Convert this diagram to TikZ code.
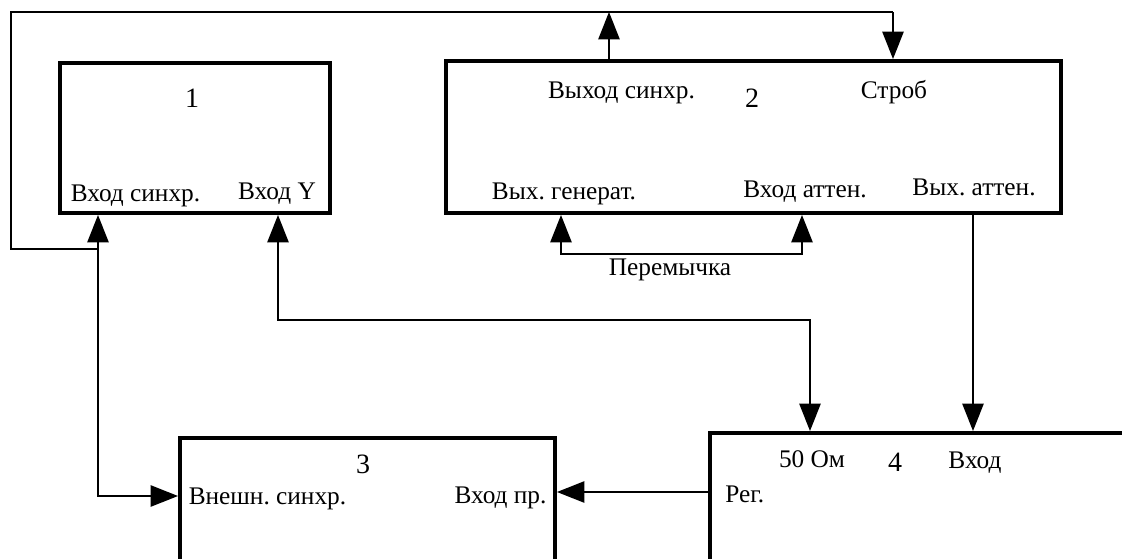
\documentclass[tikz,border=0pt]{standalone}
\usepackage{fontspec}
\setmainfont{Liberation Serif}
\usetikzlibrary{arrows.meta}
\frenchspacing
\begin{document}
\begin{tikzpicture}[x=0.75pt,y=-0.75pt,
  blk/.style={draw,line width=3pt,inner sep=0pt},
  lbl/.style={inner sep=0pt,anchor=base,font=\fontsize{19}{22}\selectfont\frenchspacing},
  num/.style={inner sep=0pt,anchor=base,font=\fontsize{21}{24}\selectfont},
  wire/.style={line width=1pt},
  tip/.tip={Triangle[length=20.5pt,width=16pt]},
  arr/.style={wire,-tip},
  darr/.style={wire,tip-tip}]
\useasboundingbox (0,0) rectangle (1122,558);
\clip (0,0) rectangle (1122,558);
\fill[white] (0,0) rectangle (1122,558);
% blocks
\node[blk,minimum width=202.5pt,minimum height=112.5pt] (box1) at (195,138) {};
\node[blk,minimum width=461.25pt,minimum height=114pt] (box2) at (753.5,137) {};
\node[blk,minimum width=281.25pt,minimum height=151.5pt] (box3) at (367.5,539) {};
\node[blk,minimum width=375pt,minimum height=155.25pt] (box4) at (960,536.5) {};
% block 1 texts
\node[num] (n1) at (192,107) {1};
\node[lbl] (b1s) at (135.5,201) {Вход синхр.};
\node[lbl] (b1y) at (277,199.5) {Вход Y};
% block 2 texts
\node[lbl] (b2so) at (621.5,98.5) {Выход синхр.};
\node[num] (n2) at (752,107) {2};
\node[lbl] (b2st) at (894,98) {Строб};
\node[lbl] (b2g) at (564,199) {Вых. генерат.};
\node[lbl] (b2ai) at (805,197) {Вход аттен.};
\node[lbl] (b2ao) at (974,195) {Вых. аттен.};
\node[lbl] (jmp) at (670,275) {Перемычка};
% block 3 texts
\node[num] (n3) at (363,473) {3};
\node[lbl] (b3s) at (267.5,504) {Внешн. синхр.};
\node[lbl] (b3i) at (500.5,503) {Вход пр.};
% block 4 texts
\node[lbl] (b4o) at (812,467) {50 Ом};
\node[num] (n4) at (895,471) {4};
\node[lbl] (b4i) at (975,468) {Вход};
\node[lbl,anchor=base west] (b4r) at (725,502) {Рег.};
% coordinates
\coordinate (tl) at (11,12);
\coordinate (tr) at (893,12);
\coordinate (so) at (609,12);
\coordinate (m) at (98,249);
\coordinate (ext) at (98,496);
\coordinate (jl) at (561,254);
\coordinate (jr) at (802,254);
\coordinate (yk) at (278,320);
\coordinate (ok) at (810,320);
\coordinate (va) at (973,300);
\coordinate (rg) at (600,492);
% connectors
\draw[wire] (m) -- (m -| tl) -- (tl) -- (tr);
\draw[arr] (tr) -- (tr |- box2.north);
\draw[arr] (so |- box2.north) -- (so);
\draw[arr] (m) -- (m |- box1.south);
\draw[arr] (m) -- (ext) -- (ext -| box3.west);
\draw[darr] (jl |- box2.south) -- (jl) -- (jr) -- (jr |- box2.south);
\draw[darr] (yk |- box1.south) -- (yk) -- (ok) -- (ok |- box4.north);
\draw[arr] (va |- box2.south) -- (va |- box4.north);
\draw[arr] (box4.west |- rg) -- (box3.east |- rg);
\end{tikzpicture}
\end{document}
